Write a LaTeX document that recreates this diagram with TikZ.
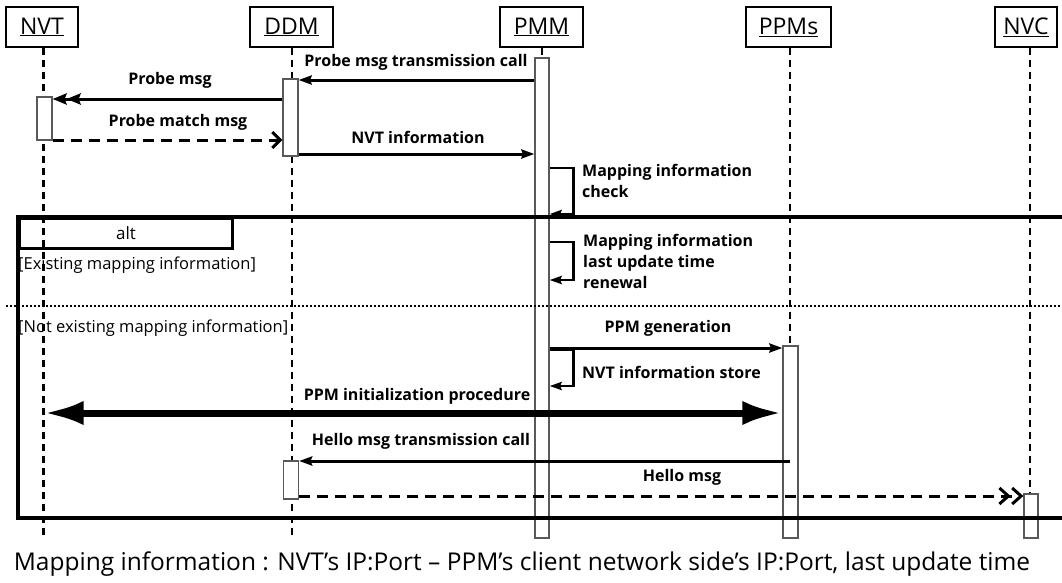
\documentclass[tikz,border=0pt]{standalone}
\usepackage{fontspec}
\setmainfont{Open Sans}
\usetikzlibrary{arrows.meta}
\begin{document}
\begin{tikzpicture}[x=1pt,y=-1pt,
  head/.style={draw, line width=1.2pt, minimum height=40pt, inner sep=0pt,
    font=\fontsize{23}{26}\selectfont},
  lifeline/.style={line width=2.6pt, dash pattern=on 7pt off 5pt},
  bar/.style={draw=black!65, line width=1.2pt, fill=white, inner sep=0pt,
    minimum width=15pt},
  msg/.style={line width=3pt, -{Stealth[length=13pt,width=9pt,inset=1.5pt]}},
  selfmsg/.style={line width=2.6pt, -{Stealth[length=12pt,width=8pt,inset=1.5pt]}},
  dblmsg/.style={line width=3pt,
    -{Stealth[length=14pt,width=11pt,inset=2pt]Stealth[length=14pt,width=11pt,inset=2pt]}},
  reply/.style={line width=3pt, dash pattern=on 11pt off 7pt,
    -{Straight Barb[length=8pt,width=16pt,line width=3pt]}},
  dblreply/.style={line width=3pt, dash pattern=on 11pt off 7pt,
    -{Straight Barb[length=9pt,width=16pt,line width=3pt]Straight Barb[length=9pt,width=16pt,line width=3pt]}},
  bigarrow/.style={line width=7pt,
    {Latex[length=40pt,width=24pt]}-{Latex[length=40pt,width=24pt]}},
  lbl/.style={inner sep=0pt, font=\bfseries\fontsize{16}{21}\selectfont, align=left},
  cond/.style={inner sep=0pt, anchor=west, font=\fontsize{16.5}{19}\selectfont},
  frame/.style={line width=3.6pt},
  altbox/.style={draw, line width=3.2pt, inner sep=0pt, minimum width=213pt,
    minimum height=30pt, font=\fontsize{17}{20}\selectfont}
]
\useasboundingbox (0,0) rectangle (1062,582);

% participants
\node[head, minimum width=72pt] (nvt)  at (42,27)    {\underline{NVT}};
\node[head, minimum width=83pt] (ddm)  at (291.5,27) {\underline{DDM}};
\node[head, minimum width=83pt] (pmm)  at (541.5,27) {\underline{PMM}};
\node[head, minimum width=85pt] (ppms) at (788.5,27) {\underline{PPMs}};
\node[head, minimum width=62pt] (nvc)  at (1026,27)  {\underline{NVC}};

% lifeline ends
\coordinate (nvtend)  at (43.5,538);
\coordinate (ddmend)  at (292,538);
\coordinate (pmmend)  at (542,538);
\coordinate (ppmsend) at (790,538);
\coordinate (nvcend)  at (1030,538);

\draw[lifeline] (nvtend |- nvt.south)   -- (nvtend);
\draw[lifeline] (ddmend |- ddm.south)   -- (ddmend);
\draw[lifeline] (pmmend |- pmm.south)   -- (pmmend);
\draw[lifeline] (ppmsend |- ppms.south) -- (ppmsend);
\draw[lifeline] (nvcend |- nvc.south)   -- (nvcend);

% activation bars
\node[bar, minimum height=43pt]  (nvtbar)  at (44.5,118.5) {};
\node[bar, minimum height=77pt]  (ddmbar)  at (290.5,117.5) {};
\node[bar, minimum width=14pt, minimum height=480pt] (pmmbar) at (542,298) {};
\node[bar, minimum height=192pt] (ppmsbar) at (790.5,442) {};
\node[bar, minimum height=38pt]  (ddmbarb) at (291,480) {};
\node[bar, minimum width=14pt, minimum height=44pt] (nvcbar) at (1031,516) {};

% combined fragment
\draw[frame] (1062,217) -- (18,217) -- (18,518) -- (1062,518);
\node[altbox, anchor=north west] (alt) at (18,217) {alt};
\draw[line width=2pt, dash pattern=on 2pt off 2pt] (6,306) -- (1062,306);
\node[cond] (c1) at (18,265) {[Existing mapping information]};
\node[cond] (c2) at (18,328) {[Not existing mapping information]};

% messages
\draw[msg] (pmmbar.west |- 0,80) -- (ddmbar.east |- 0,80);
\node[lbl] (m1) at (416,62) {Probe msg transmission call};

\draw[dblmsg] (ddmbar.west |- 0,99) -- (nvtbar.east |- 0,99);
\node[lbl] (m2) at (170,80) {Probe msg};

\draw[reply] (nvtbar.east |- 0,140) -- (ddmbar.west |- 0,140);
\node[lbl] (m3) at (178,122) {Probe match msg};

\draw[msg] (ddmbar.east |- 0,154) -- (pmmbar.west |- 0,154);
\node[lbl] (m4) at (418,137) {NVT information};

\draw[selfmsg] (pmmbar.east |- 0,168) -- ++(24,0) |- (pmmbar.east |- 0,214);
\node[lbl, anchor=west] (m5) at (582,181) {Mapping information\\check};

\draw[selfmsg] (pmmbar.east |- 0,242) -- ++(24,0) |- (pmmbar.east |- 0,280);
\node[lbl, anchor=west] (m6) at (583,261) {Mapping information\\last update time\\renewal};

\draw[msg] (pmmbar.east |- 0,348) -- (ppmsbar.west |- 0,348);
\node[lbl] (m7) at (668,328) {PPM generation};

\draw[selfmsg] (pmmbar.east |- 0,350) -- ++(24,0) |- (pmmbar.east |- 0,386);
\node[lbl, anchor=west] (m8) at (582,372) {NVT information store};

\draw[bigarrow] (nvtend |- 0,413) -- (ppmsbar.west |- 0,413);
\node[lbl] (m9) at (417,396) {PPM initialization procedure};

\draw[msg] (ppmsend |- 0,461) -- (ddmbarb.east |- 0,461);
\node[lbl] (m10) at (421,441) {Hello msg transmission call};

\draw[dblreply] (ddmbarb.east |- 0,496) -- (nvcbar.west |- 0,496);
\node[lbl] (m11) at (682,477) {Hello msg};

% footnote
\node[inner sep=0pt, anchor=base, font=\fontsize{24.5}{28}\selectfont] (note) at (522,570)
  {Mapping information : NVT’s IP:Port – PPM’s client network side’s IP:Port, last update time};
\end{tikzpicture}
\end{document}
